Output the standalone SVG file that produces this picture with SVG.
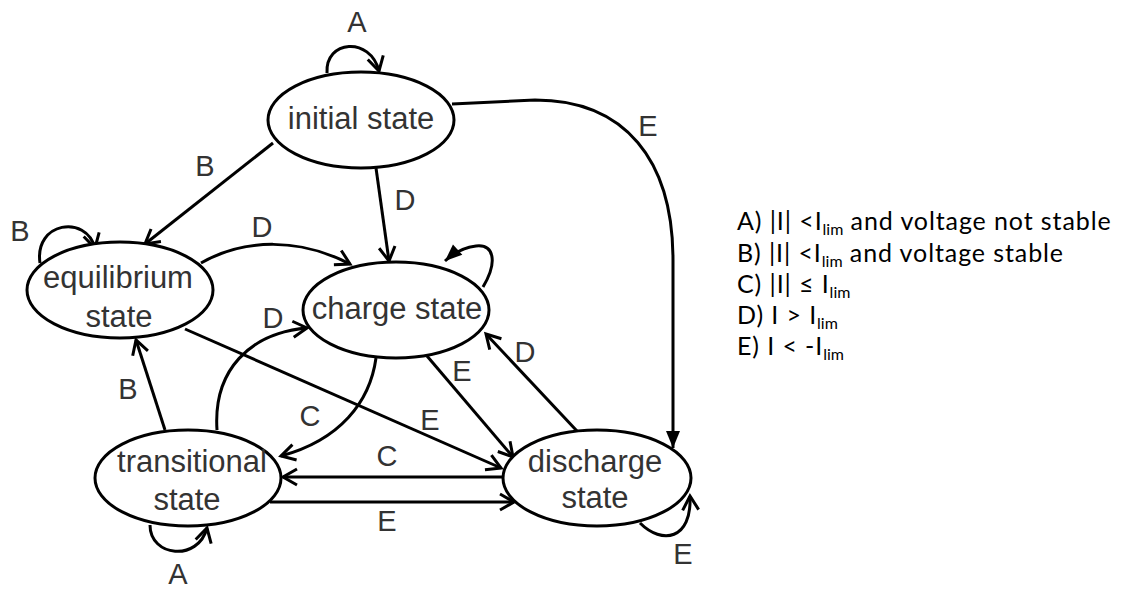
<svg xmlns="http://www.w3.org/2000/svg" width="1128" height="589" viewBox="0 0 1128 589">
<style>
.node{fill:#fff;stroke:#000;stroke-width:3}
.nt{font-family:"Liberation Sans",Arial,sans-serif;font-size:31px;fill:#333;text-anchor:middle}
.lb{font-family:"Liberation Sans",Arial,sans-serif;font-size:29px;fill:#333;text-anchor:middle}
.e{fill:none;stroke:#000;stroke-width:3}
.o{marker-end:url(#open)}
.f{marker-end:url(#filled)}
.lg{font-family:Lato,"Open Sans",sans-serif;font-size:25px;letter-spacing:0.9px;fill:#000}
.sub{font-size:16px;letter-spacing:0}
</style>
<defs>
<marker id="open" markerUnits="userSpaceOnUse" viewBox="0 0 30 30" markerWidth="30" markerHeight="30" refX="15" refY="15" orient="auto" overflow="visible">
<path d="M1,7 L15,15 L1,23" fill="none" stroke="#000" stroke-width="3"/>
</marker>
<marker id="filled" markerUnits="userSpaceOnUse" viewBox="0 0 30 30" markerWidth="30" markerHeight="30" refX="15" refY="15" orient="auto" overflow="visible">
<path d="M-2,8 L15,15 L-2,22 Z" fill="#000"/>
</marker>
</defs>
<rect width="1128" height="589" fill="#fff"/>
<g id="connectors">
<path class="e o" d="M327,73 C325,40 370,36 379,71"/>
<path class="e o" d="M273,143 L145,244"/>
<path class="e o" d="M40,263 C34,222 86,214 95,248"/>
<path class="e o" d="M376,168 L389,261"/>
<path class="e o" d="M201,263 C245,238 300,238 350,264"/>
<path class="e f" d="M483,287 C498,262 494,244 476,246 C466,247 455,252 445,261"/>
<path class="e o" d="M165,430 L136,340"/>
<path class="e o" d="M217,430 C213,370 250,333 307,328"/>
<path class="e o" d="M185,329 L501,468"/>
<path class="e o" d="M376,358 C370,402 340,440 281,456"/>
<path class="e o" d="M427,356 L513,457"/>
<path class="e o" d="M577,431 L486,334"/>
<path class="e f" d="M452,104 L535,100 C625,100 673,160 673,260 L673,448"/>
<path class="e o" d="M503,477 L283,477"/>
<path class="e o" d="M270,502 L514,502"/>
<path class="e o" d="M150,525 C150,557 198,562 207,528"/>
<path class="e o" d="M640,523 C662,545 692,540 690,496"/>
</g>
<g id="edge-labels">
<text class="lb" x="357" y="32">A</text>
<text class="lb" x="205" y="176">B</text>
<text class="lb" x="20" y="241">B</text>
<text class="lb" x="405" y="210">D</text>
<text class="lb" x="262" y="237">D</text>
<text class="lb" x="128" y="399">B</text>
<text class="lb" x="273" y="328">D</text>
<text class="lb" x="310" y="426">C</text>
<text class="lb" x="462" y="381">E</text>
<text class="lb" x="430" y="430">E</text>
<text class="lb" x="525" y="362">D</text>
<text class="lb" x="648" y="136">E</text>
<text class="lb" x="387" y="466">C</text>
<text class="lb" x="387" y="531">E</text>
<text class="lb" x="178" y="584">A</text>
<text class="lb" x="683" y="564">E</text>
</g>
<g id="initial-state">
<ellipse class="node" cx="361" cy="120" rx="93" ry="48"/>
<text class="nt" x="361" y="129">initial state</text>
</g>
<g id="equilibrium-state">
<ellipse class="node" cx="120" cy="290" rx="93" ry="48"/>
<text class="nt" x="118" y="288">equilibrium</text>
<text class="nt" x="119" y="327">state</text>
</g>
<g id="charge-state">
<ellipse class="node" cx="396" cy="310" rx="93" ry="48"/>
<text class="nt" x="397" y="319">charge state</text>
</g>
<g id="transitional-state">
<ellipse class="node" cx="188" cy="478" rx="93" ry="48"/>
<text class="nt" x="192" y="472">transitional</text>
<text class="nt" x="187" y="510">state</text>
</g>
<g id="discharge-state">
<ellipse class="node" cx="597" cy="478" rx="94" ry="48"/>
<text class="nt" x="595" y="472">discharge</text>
<text class="nt" x="595" y="508">state</text>
</g>
<g id="legend">
<text class="lg" x="737" y="230">A) |I| &lt;I<tspan class="sub" dy="5">lim</tspan><tspan dy="-5"> and voltage not stable</tspan></text>
<text class="lg" x="737" y="262">B) |I| &lt;I<tspan class="sub" dy="5">lim</tspan><tspan dy="-5"> and voltage stable</tspan></text>
<text class="lg" x="737" y="293">C) |I| ≤ I<tspan class="sub" dy="5">lim</tspan></text>
<text class="lg" x="737" y="324">D) I &gt; I<tspan class="sub" dy="5">lim</tspan></text>
<text class="lg" x="737" y="355">E) I &lt; -I<tspan class="sub" dy="5">lim</tspan></text>
</g>
</svg>
